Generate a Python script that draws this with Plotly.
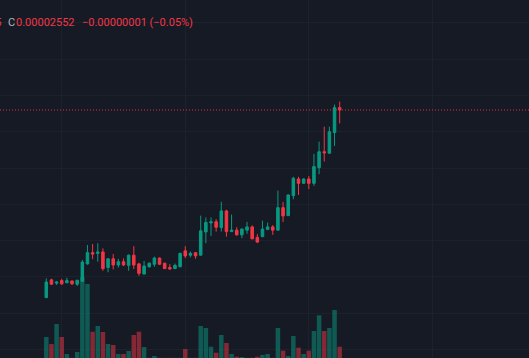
import pandas as pd
import plotly.graph_objects as go

# ---- data (hourly candles) ----
opens = [0.000024486, 0.000024584, 0.000024566, 0.000024580, 0.000024568, 0.000024578, 0.000024560, 0.000024576,
         0.000024672, 0.000024734, 0.000024730, 0.000024738, 0.000024652, 0.000024700, 0.000024666, 0.000024684,
         0.000024664, 0.000024720, 0.000024672, 0.000024616, 0.000024656, 0.000024670, 0.000024704, 0.000024676,
         0.000024652, 0.000024646, 0.000024656, 0.000024744, 0.000024720, 0.000024734, 0.000024720, 0.000024848,
         0.000024898, 0.000024904, 0.000024872, 0.000024964, 0.000024850, 0.000024858, 0.000024832, 0.000024858,
         0.000024876, 0.000024818, 0.000024822, 0.000024862, 0.000024876, 0.000024858, 0.000024982, 0.000024938,
         0.000025048, 0.000025140, 0.000025116, 0.000025140, 0.000025116, 0.000025202, 0.000025290, 0.000025282,
         0.000025396, 0.000025533]
highs = [0.000024592, 0.000024590, 0.000024576, 0.000024590, 0.000024596, 0.000024580, 0.000024584, 0.000024694,
         0.000024776, 0.000024782, 0.000024786, 0.000024758, 0.000024704, 0.000024726, 0.000024700, 0.000024702,
         0.000024724, 0.000024770, 0.000024678, 0.000024688, 0.000024680, 0.000024712, 0.000024708, 0.000024678,
         0.000024670, 0.000024674, 0.000024734, 0.000024770, 0.000024740, 0.000024736, 0.000024938, 0.000024928,
         0.000024928, 0.000024918, 0.000025014, 0.000024970, 0.000024944, 0.000024874, 0.000024868, 0.000024904,
         0.000024884, 0.000024836, 0.000024910, 0.000024900, 0.000024886, 0.000025076, 0.000025014, 0.000025054,
         0.000025152, 0.000025152, 0.000025144, 0.000025156, 0.000025278, 0.000025346, 0.000025428, 0.000025428,
         0.000025550, 0.000025566]
lows = [0.000024484, 0.000024556, 0.000024556, 0.000024556, 0.000024566, 0.000024556, 0.000024550, 0.000024572,
        0.000024668, 0.000024698, 0.000024684, 0.000024634, 0.000024626, 0.000024642, 0.000024652, 0.000024660,
        0.000024634, 0.000024644, 0.000024606, 0.000024614, 0.000024652, 0.000024656, 0.000024666, 0.000024644,
        0.000024638, 0.000024644, 0.000024654, 0.000024704, 0.000024708, 0.000024700, 0.000024718, 0.000024786,
        0.000024826, 0.000024850, 0.000024850, 0.000024822, 0.000024848, 0.000024828, 0.000024814, 0.000024838,
        0.000024808, 0.000024788, 0.000024820, 0.000024858, 0.000024832, 0.000024856, 0.000024902, 0.000024936,
        0.000025028, 0.000025052, 0.000025112, 0.000025084, 0.000025102, 0.000025166, 0.000025236, 0.000025280,
        0.000025322, 0.000025446]
closes = [0.000024572, 0.000024560, 0.000024572, 0.000024562, 0.000024580, 0.000024562, 0.000024582, 0.000024682,
          0.000024734, 0.000024726, 0.000024738, 0.000024646, 0.000024700, 0.000024666, 0.000024684, 0.000024666,
          0.000024720, 0.000024666, 0.000024620, 0.000024660, 0.000024676, 0.000024704, 0.000024670, 0.000024646,
          0.000024644, 0.000024664, 0.000024730, 0.000024716, 0.000024730, 0.000024716, 0.000024854, 0.000024900,
          0.000024904, 0.000024874, 0.000024964, 0.000024850, 0.000024858, 0.000024832, 0.000024864, 0.000024876,
          0.000024810, 0.000024792, 0.000024864, 0.000024876, 0.000024858, 0.000024982, 0.000024936, 0.000025052,
          0.000025144, 0.000025116, 0.000025140, 0.000025116, 0.000025208, 0.000025290, 0.000025284, 0.000025400,
          0.000025533, 0.000025520]
volumes_k = [210, 140, 340, 210, 40, 2, 60, 810, 740, 263, 320, 260, 140, 130, 40, 40, 70, 230, 263, 110,
             2, 20, 2, 2, 2, 2, 2, 90, 2, 2, 320, 300, 113, 53, 230, 150, 40, 13, 10, 2,
             2, 13, 30, 40, 2, 300, 73, 20, 220, 103, 40, 73, 270, 427, 270, 300, 480, 113]
start_time = "2024-03-10 21:00"

times = pd.date_range(start_time, periods=len(closes), freq="h")

UP = "#089981"
DOWN = "#F23645"
BG = "#161a25"
GRID = "#1d212d"

vol_colors = ["rgba(8,153,129,0.5)" if c >= o else "rgba(242,54,69,0.5)" for o, c in zip(opens, closes)]

fig = go.Figure()
fig.add_trace(go.Bar(x=times, y=volumes_k, marker=dict(color=vol_colors, line=dict(width=0)),
                     yaxis="y2", hoverinfo="skip"))
fig.add_trace(go.Candlestick(
    x=times, open=opens, high=highs, low=lows, close=closes,
    increasing=dict(line=dict(color=UP, width=1), fillcolor=UP),
    decreasing=dict(line=dict(color=DOWN, width=1), fillcolor=DOWN),
    whiskerwidth=0, yaxis="y"))

# scale: pixels per hour and price per pixel
px_per_hour = 5.147
first_px = 46.3
x0 = times[0] - pd.Timedelta(hours=first_px / px_per_hour)
x1 = x0 + pd.Timedelta(hours=529 / px_per_hour)
k = 5.51e-9
last = closes[-1]
y_top = last + 110 * k
y_bot = last - 248 * k

fig.add_shape(type="line", xref="paper", x0=0, x1=1, yref="y", y0=last, y1=last,
              line=dict(color=DOWN, width=1, dash="1px,2px"), opacity=0.9)

prev = closes[-2]
chg = last - prev
pct = chg / prev * 100
def fmt(v, nd):
    s = f"{abs(v):.{nd}f}"
    return ("\u2212" if v < 0 else "") + s

def ann(xpx, text, color=DOWN, anchor="left"):
    fig.add_annotation(xref="paper", yref="paper", x=xpx / 529, y=1 - 22.5 / 358,
                       xanchor=anchor, yanchor="middle", text=text, showarrow=False,
                       borderpad=0, font=dict(family="Roboto", size=11, color=color))

ann(3.0, f"{lows[-1]:.8f}", anchor="right")
ann(7.0, "C", color="#B2B5BE")
ann(15.0, f"{last:.8f}")
ann(80.5, f"{fmt(chg, 8)} ({fmt(pct, 2)}%)")

fig.update_layout(
    width=529, height=358, margin=dict(l=0, r=0, t=0, b=0),
    paper_bgcolor=BG, plot_bgcolor=BG, showlegend=False,
    bargap=0.12, boxgap=0.3, boxgroupgap=0.3,
    xaxis=dict(type="date", range=[x0, x1], rangeslider=dict(visible=False),
               showticklabels=False, showgrid=True, gridcolor=GRID, gridwidth=1,
               tick0=times[3], dtick=86400000, zeroline=False, showline=False, ticks=""),
    yaxis=dict(range=[y_bot, y_top], showticklabels=False, showgrid=True, gridcolor=GRID,
               tick0=0, dtick=2e-7, zeroline=False, showline=False, ticks=""),
    yaxis2=dict(range=[0, 3580], overlaying="y", showticklabels=False, showgrid=False,
                zeroline=False, showline=False, ticks=""),
)

fig.write_html("out.html", config={"displayModeBar": False},
               post_script="document.body.style.margin='0';document.body.style.background='" + BG + "';")
